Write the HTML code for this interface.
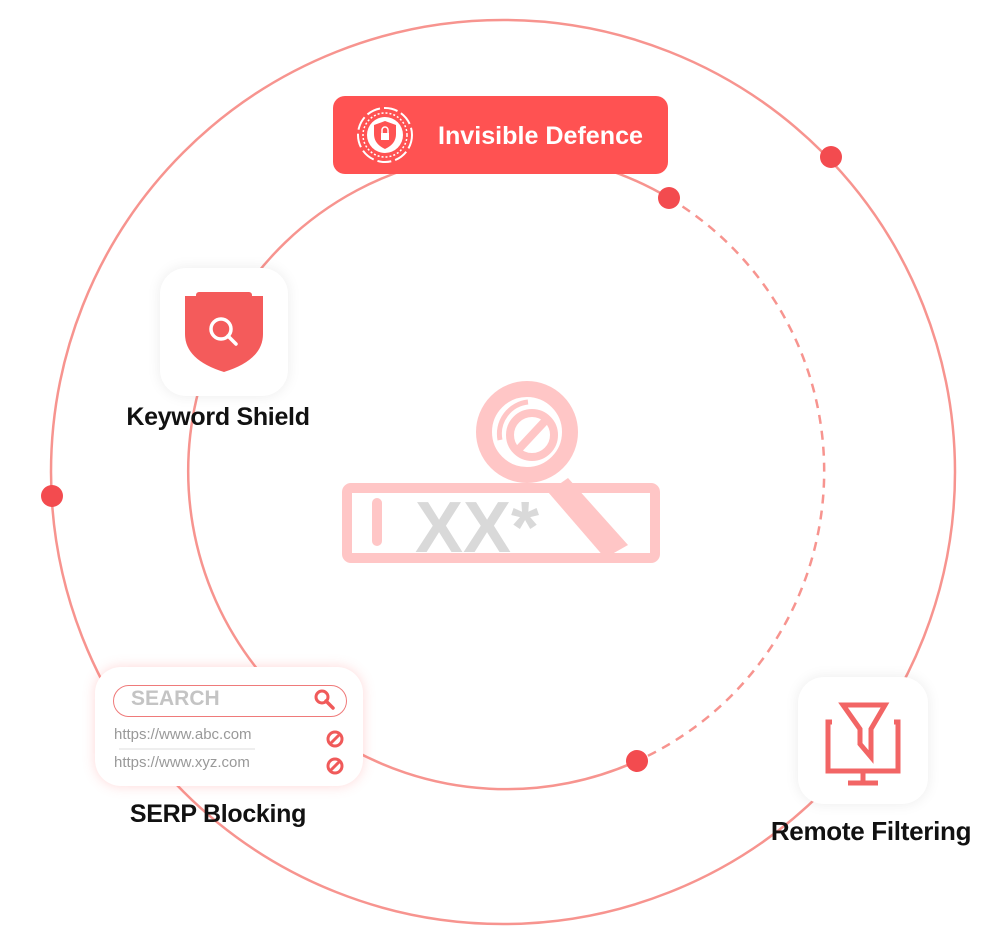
<!DOCTYPE html>
<html><head><meta charset="utf-8"><style>
html,body{margin:0;padding:0;background:#fff;}
body{width:1000px;height:946px;position:relative;overflow:hidden;font-family:"Liberation Sans",sans-serif;}
.card{position:absolute;background:#fff;border-radius:26px;box-shadow:0 0 14px rgba(0,0,0,0.08);}
.lbl{position:absolute;font-weight:bold;font-size:25px;color:#111;white-space:nowrap;transform:translateX(-50%);letter-spacing:-0.3px;}
</style></head><body>
<svg width="1000" height="946" style="position:absolute;left:0;top:0">
<circle cx="503" cy="472" r="452" fill="none" stroke="#f7948f" stroke-width="2.5"/>
<path d="M637 761 A318 318 0 1 1 669 198" fill="none" stroke="#f7948f" stroke-width="2.5"/>
<path d="M669 198 A318 318 0 0 1 637 761" fill="none" stroke="#f7948f" stroke-width="2.5" stroke-dasharray="9 7"/>
<circle cx="831" cy="157" r="11" fill="#f34b4f"/>
<circle cx="52" cy="496" r="11" fill="#f34b4f"/>
<circle cx="669" cy="198" r="11" fill="#f34b4f"/>
<circle cx="637" cy="761" r="11" fill="#f34b4f"/>
<!-- center icon -->
<rect x="347" y="488" width="308" height="70" rx="4" fill="#fff" stroke="#ffc6c6" stroke-width="10"/>
<rect x="372" y="498" width="10" height="48" rx="5" fill="#ffc6c6"/>
<text x="415" y="552" font-family="Liberation Sans" font-weight="bold" font-size="72" fill="#d9d9d9">XX*</text>
<path d="M568 478 L628 545 L605 558 L548 492 Z" fill="#ffc6c6"/>
<circle cx="527" cy="432" r="43" fill="#fff" stroke="#ffc6c6" stroke-width="16"/>
<circle cx="532" cy="435" r="22" fill="none" stroke="#ffc6c6" stroke-width="8"/>
<line x1="518" y1="450" x2="546" y2="420" stroke="#ffc6c6" stroke-width="8"/>
<path d="M500 440 A32 32 0 0 1 528 402" fill="none" stroke="#ffc6c6" stroke-width="5"/>
<!-- invisible defence -->
<rect x="333" y="96" width="335" height="78" rx="12" fill="#ff5252"/>
<circle cx="385" cy="135" r="27" fill="none" stroke="#fff" stroke-width="2" stroke-dasharray="14 4"/>
<circle cx="385" cy="135" r="22" fill="none" stroke="#fff" stroke-width="1.5" stroke-dasharray="2 2"/>
<circle cx="385" cy="135" r="18" fill="#fff"/>
<path d="M385 121 L396 125 L396 134 Q396 144 385 149 Q374 144 374 134 L374 125 Z" fill="#ff5252"/>
<rect x="381" y="133" width="8" height="7" fill="#fff"/>
<path d="M382 133 v-3 a3 3 0 0 1 6 0 v3" fill="none" stroke="#fff" stroke-width="1.5"/>
<text x="438" y="144" font-family="Liberation Sans" font-weight="bold" font-size="25" fill="#fff" textLength="205" lengthAdjust="spacingAndGlyphs">Invisible Defence</text>
</svg>
<div class="card" style="left:160px;top:268px;width:128px;height:128px;">
<svg width="128" height="128"><path d="M25 28 H103 V66 Q103 92 64 104 Q25 92 25 66 Z" fill="#f45b5b"/>
<rect x="36" y="24" width="56" height="8" rx="3" fill="#f45b5b"/>
<circle cx="61" cy="61" r="10" fill="none" stroke="#fff" stroke-width="3.5"/>
<line x1="68" y1="68" x2="76" y2="76" stroke="#fff" stroke-width="3.5" stroke-linecap="round"/></svg>
</div>
<div class="lbl" style="left:218px;top:403px;">Keyword Shield</div>
<div class="card" style="left:95px;top:667px;width:268px;height:119px;box-shadow:0 0 12px rgba(255,100,100,0.25);">
<div style="position:absolute;left:18px;top:18px;width:232px;height:30px;border:1.5px solid #ef7a7a;border-radius:16px;"></div>
<div style="position:absolute;left:36px;top:20px;font-weight:bold;font-size:21px;color:#c4c4c4;">SEARCH</div>
<svg style="position:absolute;left:218px;top:21px" width="24" height="24"><circle cx="9" cy="9" r="6" fill="none" stroke="#f05a5a" stroke-width="3"/><line x1="13" y1="13" x2="20" y2="20" stroke="#f05a5a" stroke-width="3.5" stroke-linecap="round"/></svg>
<div style="position:absolute;left:19px;top:59px;font-size:15px;color:#999;">https://www.abc.com</div>
<div style="position:absolute;left:24px;top:81px;width:136px;height:2px;background:#eee;"></div>
<div style="position:absolute;left:19px;top:87px;font-size:15px;color:#999;">https://www.xyz.com</div>
<svg style="position:absolute;left:230px;top:62px" width="20" height="50"><circle cx="10" cy="10" r="7" fill="none" stroke="#f05a5a" stroke-width="3"/><line x1="5" y1="15" x2="15" y2="5" stroke="#f05a5a" stroke-width="3"/><circle cx="10" cy="37" r="7" fill="none" stroke="#f05a5a" stroke-width="3"/><line x1="5" y1="42" x2="15" y2="32" stroke="#f05a5a" stroke-width="3"/></svg>
</div>
<div class="lbl" style="left:218px;top:800px;">SERP Blocking</div>
<div class="card" style="left:798px;top:677px;width:130px;height:127px;">
<svg width="130" height="127"><path d="M34 45 H30 V94 H100 V45 H96" fill="none" stroke="#f26565" stroke-width="5"/>
<path d="M45 28 H87 L73 52 V80 L62 67 V52 Z" fill="none" stroke="#f26565" stroke-width="5" stroke-linejoin="miter"/>
<line x1="65" y1="94" x2="65" y2="106" stroke="#f26565" stroke-width="5"/><line x1="50" y1="106" x2="80" y2="106" stroke="#f26565" stroke-width="5"/></svg>
</div>
<div class="lbl" style="left:871px;top:816px;font-size:26px;">Remote Filtering</div>
</body></html>
